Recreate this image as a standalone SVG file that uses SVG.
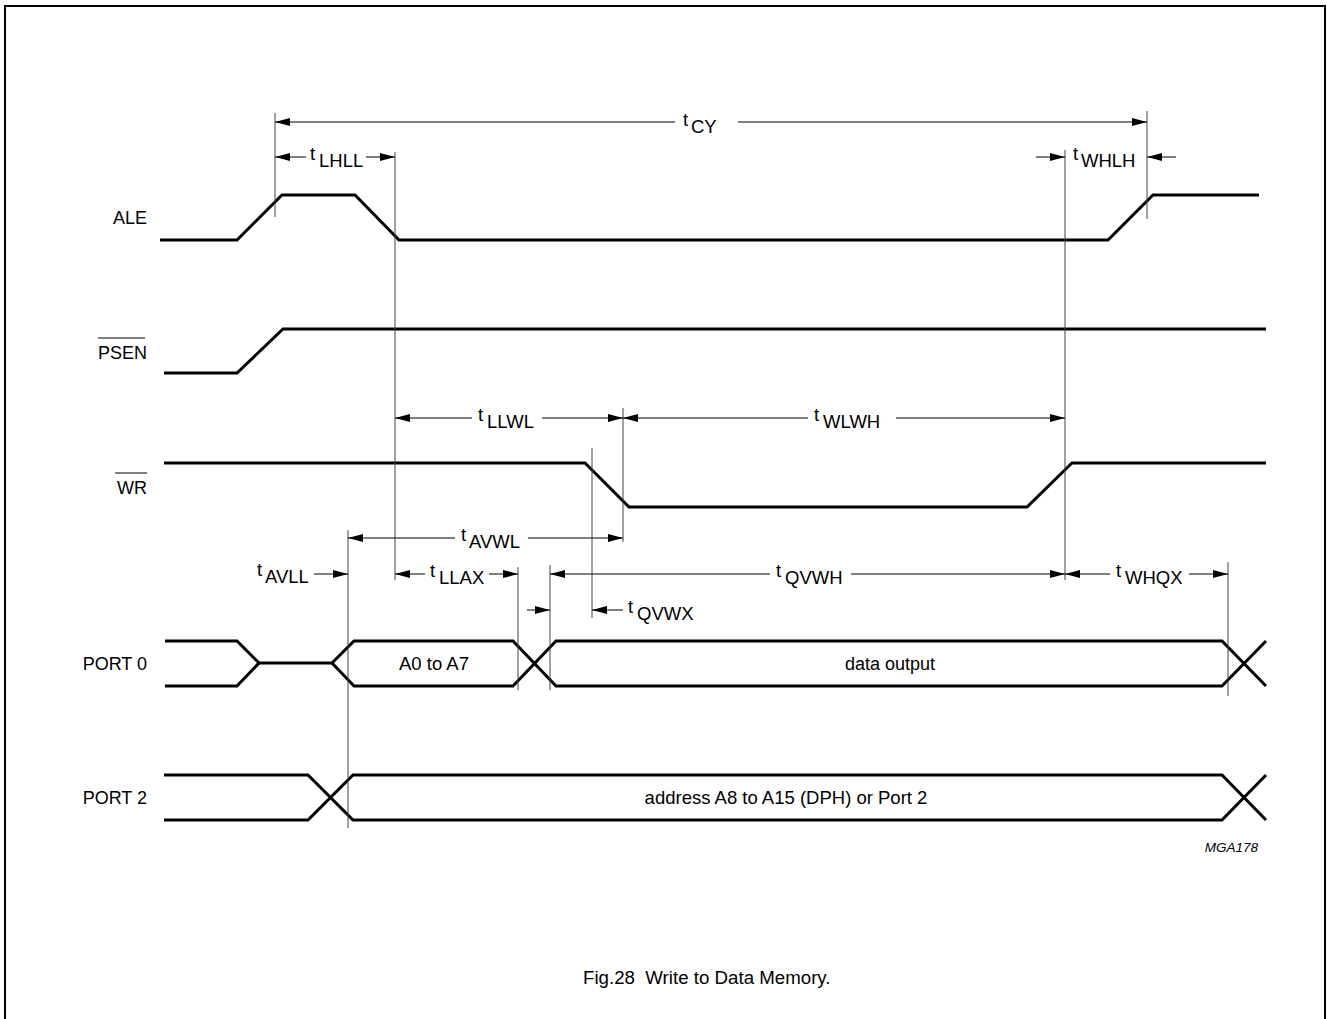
<svg xmlns="http://www.w3.org/2000/svg" width="1327" height="1019" viewBox="0 0 1327 1019">
<style>
text{font-family:"Liberation Sans",Arial,sans-serif;fill:#000}
.lab{font-size:18px;text-anchor:end}
.t{font-size:18.5px}
.sig{fill:none;stroke:#000;stroke-width:3;stroke-linejoin:miter}
.g{stroke:#444;stroke-width:1;fill:none}
.dim{stroke:#000;stroke-width:1;fill:none}
.ds{marker-start:url(#ah)}
.de{marker-end:url(#ah)}
.ovl{stroke:#555;stroke-width:1.5}
</style>
<defs>
<marker id="ah" viewBox="0 0 15 8" refX="15" refY="4" markerWidth="15" markerHeight="8" markerUnits="userSpaceOnUse" orient="auto-start-reverse"><path d="M0,0 L15,4 L0,8 z" fill="#000"/></marker>
</defs>
<rect x="5" y="6" width="1320" height="1030" fill="#fff" stroke="#000" stroke-width="2"/>

<g id="ALE">
<text class="lab" x="147" y="224">ALE</text>
<path class="sig" d="M160,240 H237 L282,195 H355 L399,240 H1108 L1153,195 H1259"/>
</g>
<g id="PSEN">
<text class="lab" x="147" y="359">PSEN</text>
<line class="ovl" x1="98" y1="338" x2="145" y2="338"/>
<path class="sig" d="M164,373 H237 L283,329 H1266"/>
</g>
<g id="WR">
<text class="lab" x="147" y="494">WR</text>
<line class="ovl" x1="115" y1="473" x2="147" y2="473"/>
<path class="sig" d="M164,463 H585 L629,507 H1027 L1072,463 H1266"/>
</g>
<g id="PORT0">
<text class="lab" x="147" y="670">PORT 0</text>
<path class="sig" d="M165,641 H237 L259,663 L237,686 H165"/>
<path class="sig" d="M259,663 H332"/>
<path class="sig" d="M332,663 L354,641 H513 L556,686 H1222 L1266,641"/>
<path class="sig" d="M332,663 L354,686 H513 L556,641 H1222 L1266,686"/>
<text x="434" y="670" font-size="18.5" text-anchor="middle">A0 to A7</text>
<text x="890" y="670" font-size="18" text-anchor="middle">data output</text>
</g>
<g id="PORT2">
<text class="lab" x="147" y="804">PORT 2</text>
<path class="sig" d="M164,775 H308 L353,820 H1222 L1266,775"/>
<path class="sig" d="M164,820 H308 L353,775 H1222 L1266,820"/>
<text x="786" y="804" font-size="18.5" text-anchor="middle">address A8 to A15 (DPH) or Port 2</text>
</g>

<g id="connectors">
<line class="g" x1="275" y1="113" x2="275" y2="217"/>
<line class="g" x1="395" y1="152" x2="395" y2="580"/>
<line class="g" x1="1147" y1="111" x2="1147" y2="219"/>
<line class="g" x1="1065" y1="150" x2="1065" y2="580"/>
<line class="g" x1="623" y1="408" x2="623" y2="542"/>
<line class="g" x1="592" y1="448" x2="592" y2="618"/>
<line class="g" x1="348" y1="530" x2="348" y2="828"/>
<line class="g" x1="518" y1="567" x2="518" y2="690"/>
<line class="g" x1="550" y1="565" x2="550" y2="690"/>
<line class="g" x1="1228" y1="562" x2="1228" y2="696"/>

<line class="dim ds" x1="275" y1="122" x2="675" y2="122"/>
<line class="dim de" x1="738" y1="122" x2="1147" y2="122"/>
<line class="dim ds" x1="275" y1="157" x2="306" y2="157"/>
<line class="dim de" x1="366" y1="157" x2="395" y2="157"/>
<line class="dim de" x1="1036" y1="157" x2="1065" y2="157"/>
<line class="dim de" x1="1176" y1="157" x2="1147" y2="157"/>
<line class="dim ds" x1="395" y1="418" x2="472" y2="418"/>
<line class="dim de" x1="542" y1="418" x2="623" y2="418"/>
<line class="dim ds" x1="623" y1="418" x2="808" y2="418"/>
<line class="dim de" x1="896" y1="418" x2="1065" y2="418"/>
<line class="dim ds" x1="348" y1="538" x2="455" y2="538"/>
<line class="dim de" x1="528" y1="538" x2="623" y2="538"/>
<line class="dim de" x1="314" y1="574" x2="348" y2="574"/>
<line class="dim ds" x1="395" y1="574" x2="425" y2="574"/>
<line class="dim de" x1="489" y1="574" x2="518" y2="574"/>
<line class="dim ds" x1="550" y1="574" x2="770" y2="574"/>
<line class="dim de" x1="851" y1="574" x2="1065" y2="574"/>
<line class="dim ds" x1="1065" y1="574" x2="1110" y2="574"/>
<line class="dim de" x1="1189" y1="574" x2="1228" y2="574"/>
<line class="dim de" x1="527" y1="610" x2="550" y2="610"/>
<line class="dim de" x1="623" y1="610" x2="592" y2="610"/>
</g>

<g id="timing-labels" class="t">
<text x="683" y="126">t</text><text x="691" y="133">CY</text>
<text x="310" y="160">t</text><text x="319" y="167">LHLL</text>
<text x="1073" y="160">t</text><text x="1081" y="167">WHLH</text>
<text x="478" y="421">t</text><text x="487" y="428">LLWL</text>
<text x="814" y="421">t</text><text x="823" y="428">WLWH</text>
<text x="461" y="541">t</text><text x="469" y="548">AVWL</text>
<text x="257" y="576">t</text><text x="265" y="583">AVLL</text>
<text x="430" y="577">t</text><text x="439" y="584">LLAX</text>
<text x="776" y="577">t</text><text x="785" y="584">QVWH</text>
<text x="1116" y="577">t</text><text x="1125" y="584">WHQX</text>
<text x="628" y="613">t</text><text x="637" y="620">QVWX</text>
</g>

<text x="1258" y="852" font-size="13.5" font-style="italic" text-anchor="end">MGA178</text>
<text x="583" y="984" font-size="18.7" xml:space="preserve">Fig.28  Write to Data Memory.</text>
</svg>
